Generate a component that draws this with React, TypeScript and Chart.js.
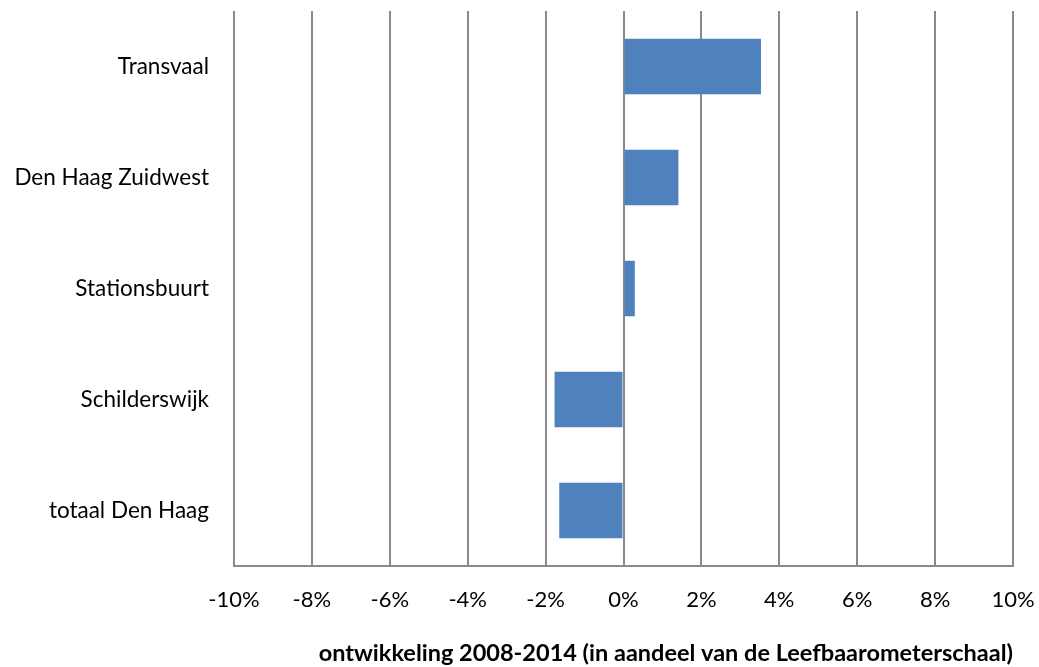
import React, { useEffect, useRef } from "react";
import { Chart, registerables } from "chart.js";

Chart.register(...registerables);

const categories = ["Transvaal", "Den Haag Zuidwest", "Stationsbuurt", "Schilderswijk", "totaal Den Haag"];
const values = [3.53, 1.41, 0.29, -1.77, -1.65];
const axisTitle = "ontwikkeling 2008-2014 (in aandeel van de Leefbaarometerschaal)";
const xMin = -10;
const xMax = 10;
const xStep = 2;

const zeroPadding = (s: any) => {
  s.paddingTop = 0;
  s.paddingBottom = 0;
  s.paddingLeft = 0;
  s.paddingRight = 0;
};

export default function App() {
  const ref = useRef<HTMLCanvasElement>(null);

  useEffect(() => {
    if (!ref.current) return;
    const chart = new Chart(ref.current, {
      type: "bar",
      data: {
        labels: categories,
        datasets: [
          {
            data: values,
            backgroundColor: "#4F81BD",
            borderWidth: 0,
            barPercentage: 0.5,
            categoryPercentage: 1,
          },
        ],
      },
      options: {
        indexAxis: "y",
        animation: false,
        responsive: false,
        maintainAspectRatio: false,
        layout: { padding: { top: 11, right: 26, bottom: 0, left: 0 } },
        plugins: { legend: { display: false }, tooltip: { enabled: false } },
        scales: {
          x: {
            min: xMin,
            max: xMax,
            ticks: {
              stepSize: xStep,
              padding: 21,
              color: "#000",
              font: { family: "Lato", size: 22 },
              callback: (v: any) => `${v}%`,
            },
            grid: { color: "#8a8a8a", lineWidth: 2, drawTicks: false },
            border: { display: true, color: "#8a8a8a", width: 2 },
            title: {
              display: true,
              text: axisTitle,
              align: "end",
              color: "#000",
              font: { family: "Lato", size: 23.5, weight: "bold", lineHeight: 1 },
              padding: { top: 0, bottom: 2 },
            },
            afterFit: (s: any) => {
              s.height = 101;
              zeroPadding(s);
            },
          },
          y: {
            ticks: {
              padding: 25,
              color: "#000",
              font: { family: "Lato", size: 22.5 },
            },
            grid: { display: false, drawTicks: false },
            border: { display: false },
            afterFit: (s: any) => {
              s.width = 234;
              zeroPadding(s);
            },
          },
        },
      },
    });
    return () => chart.destroy();
  }, []);

  return (
    <div style={{ position: "absolute", left: 0, top: 0, width: 1039, height: 667, background: "#fff" }}>
      <canvas ref={ref} width={1039} height={667} style={{ display: "block" }} />
    </div>
  );
}
